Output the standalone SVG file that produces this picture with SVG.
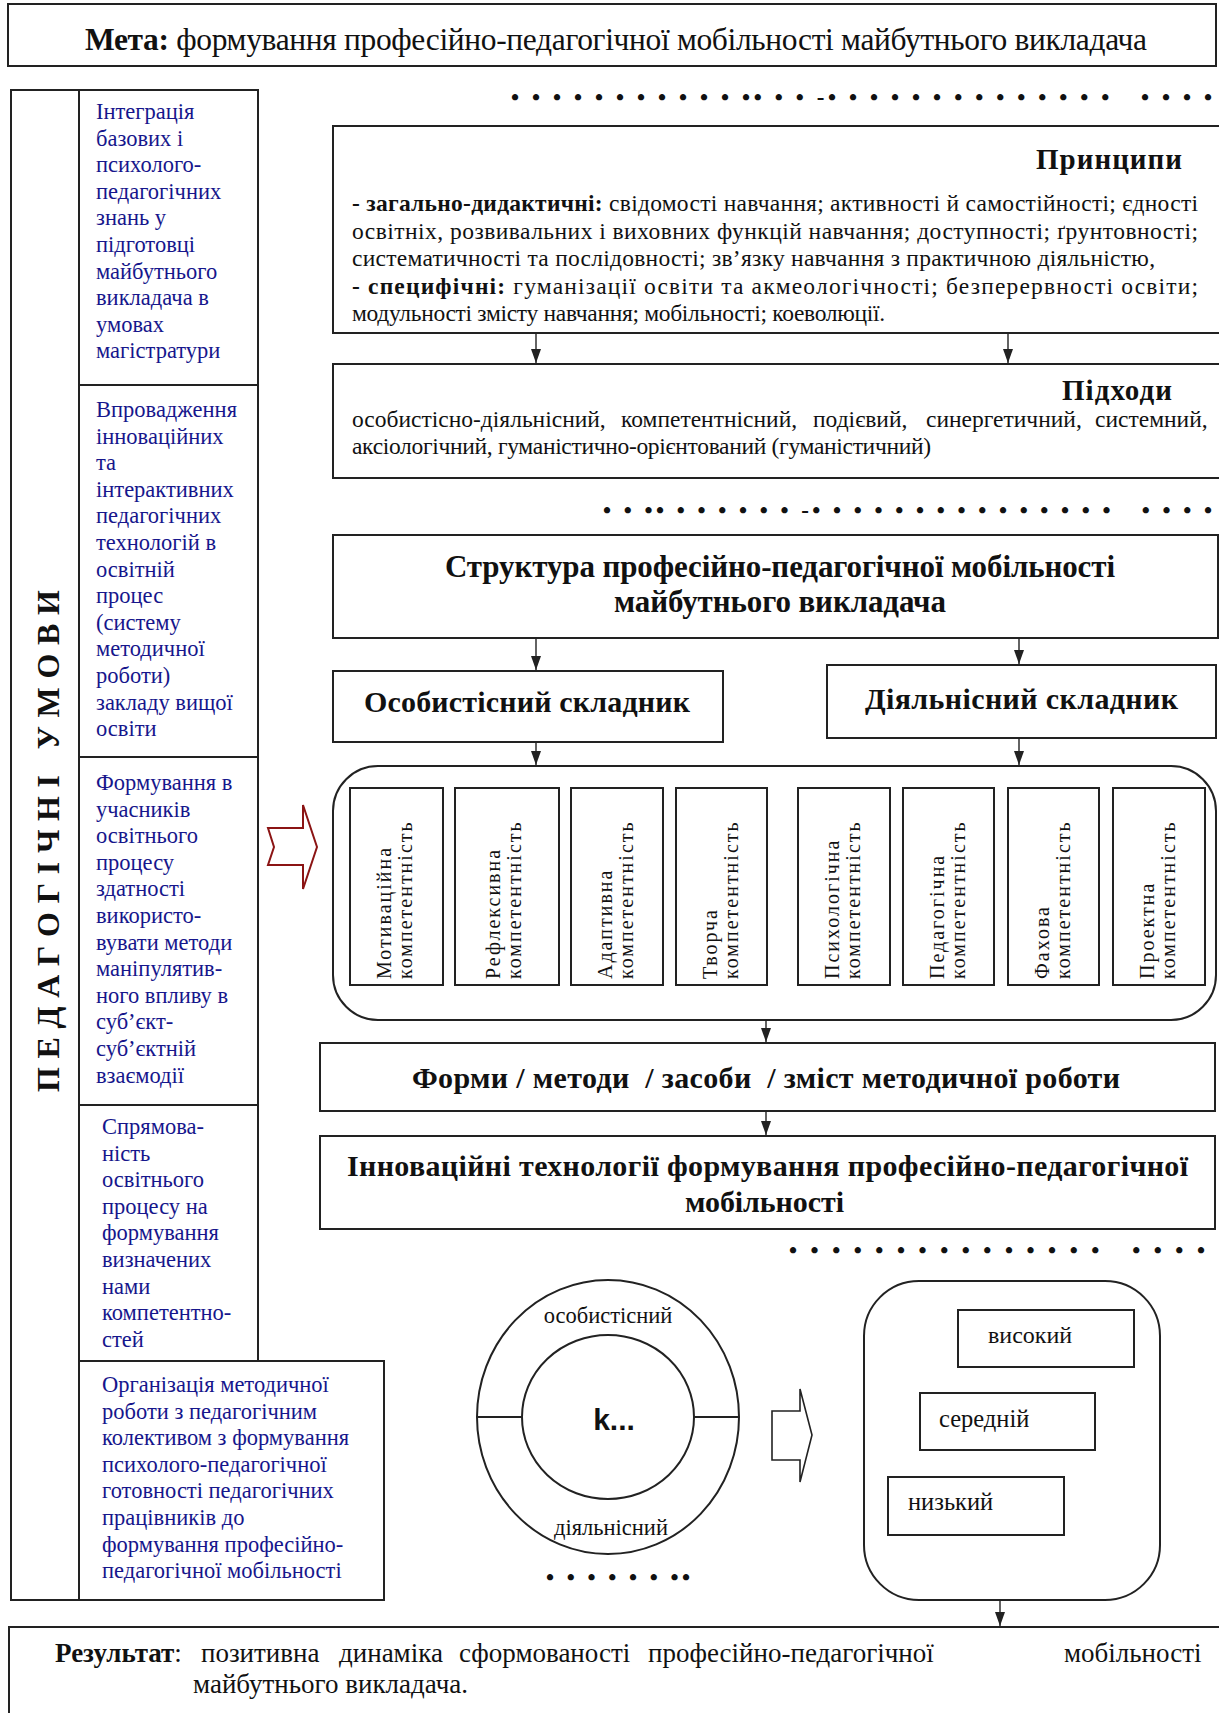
<svg xmlns="http://www.w3.org/2000/svg" width="1219" height="1713" viewBox="0 0 1219 1713">
<defs>
<style>
.box{fill:#fff;stroke:#222;stroke-width:2}
.nf{fill:none;stroke:#222;stroke-width:2}
.t{font-family:"Liberation Serif","Times New Roman",serif;fill:#111}
.b{font-weight:bold}
.blue{fill:#16168c;font-size:22.5px}
.dots{font-family:"Liberation Serif","Times New Roman",serif;font-weight:bold;font-size:23px;fill:#111}
.comp{font-family:"Liberation Serif","Times New Roman",serif;font-size:20px;letter-spacing:2px;fill:#111}
.con{stroke:#222;stroke-width:1.4;fill:none;marker-end:url(#ah)}
</style>
<marker id="ah" viewBox="0 0 14 10" refX="14" refY="5" markerWidth="14" markerHeight="10" markerUnits="userSpaceOnUse" orient="auto">
<path d="M0,0 L14,5 L0,10 Z" fill="#222"/>
</marker>
</defs>
<rect width="1219" height="1713" fill="#fff"/>

<g id="goal">
<rect class="box" x="8" y="4" width="1208" height="62"/>
<text class="t" x="85" y="50" font-size="31.5" textLength="1062" lengthAdjust="spacing"><tspan class="b">Мета:</tspan> формування професійно-педагогічної мобільності майбутнього викладача</text>
</g>

<g id="conditions">
<path class="nf" d="M11,90 H258 V1361 H384 V1600 H11 Z M79,90 V1600 M79,385 H258 M79,757 H258 M79,1105 H258 M79,1361 H258"/>
<text class="t b" xml:space="preserve" transform="translate(59,1092) rotate(-90)" font-size="32" textLength="502" lengthAdjust="spacing">П Е Д А Г О Г І Ч Н І   У М О В И</text>
</g>

<g id="cond1">
<text class="t blue" x="96" y="119"><tspan x="96" dy="0">Інтеграція</tspan><tspan x="96" dy="26.6">базових і</tspan><tspan x="96" dy="26.6">психолого-</tspan><tspan x="96" dy="26.6">педагогічних</tspan><tspan x="96" dy="26.6">знань у</tspan><tspan x="96" dy="26.6">підготовці</tspan><tspan x="96" dy="26.6">майбутнього</tspan><tspan x="96" dy="26.6">викладача в</tspan><tspan x="96" dy="26.6">умовах</tspan><tspan x="96" dy="26.6">магістратури</tspan></text>
</g>
<g id="cond2">
<text class="t blue" x="96" y="417"><tspan x="96" dy="0">Впровадження</tspan><tspan x="96" dy="26.6">інноваційних</tspan><tspan x="96" dy="26.6">та</tspan><tspan x="96" dy="26.6">інтерактивних</tspan><tspan x="96" dy="26.6">педагогічних</tspan><tspan x="96" dy="26.6">технологій в</tspan><tspan x="96" dy="26.6">освітній</tspan><tspan x="96" dy="26.6">процес</tspan><tspan x="96" dy="26.6">(систему</tspan><tspan x="96" dy="26.6">методичної</tspan><tspan x="96" dy="26.6">роботи)</tspan><tspan x="96" dy="26.6">закладу вищої</tspan><tspan x="96" dy="26.6">освіти</tspan></text>
</g>
<g id="cond3">
<text class="t blue" x="96" y="790"><tspan x="96" dy="0">Формування в</tspan><tspan x="96" dy="26.6">учасників</tspan><tspan x="96" dy="26.6">освітнього</tspan><tspan x="96" dy="26.6">процесу</tspan><tspan x="96" dy="26.6">здатності</tspan><tspan x="96" dy="26.6">використо-</tspan><tspan x="96" dy="26.6">вувати методи</tspan><tspan x="96" dy="26.6">маніпулятив-</tspan><tspan x="96" dy="26.6">ного впливу в</tspan><tspan x="96" dy="26.6">суб’єкт-</tspan><tspan x="96" dy="26.6">суб’єктній</tspan><tspan x="96" dy="26.6">взаємодії</tspan></text>
</g>
<g id="cond4">
<text class="t blue" x="102" y="1134"><tspan x="102" dy="0">Спрямова-</tspan><tspan x="102" dy="26.6">ність</tspan><tspan x="102" dy="26.6">освітнього</tspan><tspan x="102" dy="26.6">процесу на</tspan><tspan x="102" dy="26.6">формування</tspan><tspan x="102" dy="26.6">визначених</tspan><tspan x="102" dy="26.6">нами</tspan><tspan x="102" dy="26.6">компетентно-</tspan><tspan x="102" dy="26.6">стей</tspan></text>
</g>
<g id="cond5">
<text class="t blue" x="102" y="1392"><tspan x="102" dy="0">Організація методичної</tspan><tspan x="102" dy="26.6">роботи з педагогічним</tspan><tspan x="102" dy="26.6">колективом з формування</tspan><tspan x="102" dy="26.6">психолого-педагогічної</tspan><tspan x="102" dy="26.6">готовності педагогічних</tspan><tspan x="102" dy="26.6">працівників до</tspan><tspan x="102" dy="26.6">формування професійно-</tspan><tspan x="102" dy="26.6">педагогічної мобільності</tspan></text>
</g>

<g id="dots">
<text class="dots" xml:space="preserve" x="511" y="105" textLength="701" lengthAdjust="spacing">• • • • • • • • • • • •• • • -• • • • • • • • • • • • • •   • • • •</text>
<text class="dots" xml:space="preserve" x="603" y="518" textLength="609" lengthAdjust="spacing">• • •• • • • • • • -• • • • • • • • • • • • • • •   • • • •</text>
<text class="dots" xml:space="preserve" x="789" y="1258" textLength="416" lengthAdjust="spacing">• • • • • • • • • • • • • • •   • • • •</text>
<text class="dots" xml:space="preserve" x="546" y="1585" textLength="144" lengthAdjust="spacing">• • • • • • ••</text>
<text class="dots" xml:space="preserve" x="1024" y="1585" textLength="88" lengthAdjust="spacing">• •• • •</text>
</g>

<g id="principles">
<rect class="box" x="333" y="126" width="890" height="207"/>
<text class="t b" x="1036" y="169" font-size="29" textLength="146" lengthAdjust="spacing">Принципи</text>
<text class="t" font-size="23.5" x="352" y="211" textLength="846" lengthAdjust="spacing"><tspan class="b">- загально-дидактичні:</tspan> свідомості навчання; активності й самостійності; єдності</text>
<text class="t" font-size="23.5" x="352" y="238.5" textLength="846" lengthAdjust="spacing">освітніх, розвивальних і виховних функцій навчання; доступності; ґрунтовності;</text>
<text class="t" font-size="23.5" x="352" y="266" textLength="803" lengthAdjust="spacing">систематичності та послідовності; зв’язку навчання з практичною діяльністю,</text>
<text class="t" font-size="23.5" x="352" y="293.5" textLength="846" lengthAdjust="spacing"><tspan class="b">- специфічні:</tspan> гуманізації освіти та акмеологічності; безперервності освіти;</text>
<text class="t" font-size="23.5" x="352" y="321" textLength="533" lengthAdjust="spacing">модульності змісту навчання; мобільності; коеволюції.</text>
</g>

<g id="approaches">
<rect class="box" x="333" y="364" width="890" height="114"/>
<text class="t b" x="1062" y="400" font-size="29" textLength="110" lengthAdjust="spacing">Підходи</text>
<text class="t" font-size="23.5" y="427"><tspan x="352">особистісно-діяльнісний,</tspan><tspan x="621">компетентнісний,</tspan><tspan x="813">подієвий,</tspan><tspan x="926">синергетичний,</tspan><tspan x="1095">системний,</tspan></text>
<text class="t" font-size="23.5" x="352" y="454" textLength="579" lengthAdjust="spacing">аксіологічний, гуманістично-орієнтований (гуманістичний)</text>
</g>

<g id="structure">
<rect class="box" x="333" y="535" width="885" height="103"/>
<text class="t b" x="445" y="577" font-size="31" textLength="670" lengthAdjust="spacing">Структура професійно-педагогічної мобільності</text>
<text class="t b" x="614" y="612" font-size="31" textLength="332" lengthAdjust="spacing">майбутнього викладача</text>
</g>

<g id="personal">
<rect class="box" x="333" y="671" width="390" height="71"/>
<text class="t b" x="364" y="712" font-size="30" textLength="326" lengthAdjust="spacing">Особистісний складник</text>
</g>
<g id="activity">
<rect class="box" x="827" y="665" width="389" height="73"/>
<text class="t b" x="865" y="709" font-size="30" textLength="313" lengthAdjust="spacing">Діяльнісний складник</text>
</g>

<g id="competences">
<rect class="box" x="333" y="766" width="883" height="254" rx="45" ry="45"/>
<rect class="box" x="350" y="788" width="93" height="197"/>
<rect class="box" x="455" y="788" width="104" height="197"/>
<rect class="box" x="571" y="788" width="92" height="197"/>
<rect class="box" x="676" y="788" width="91" height="197"/>
<rect class="box" x="798" y="788" width="92" height="197"/>
<rect class="box" x="903" y="788" width="91" height="197"/>
<rect class="box" x="1008" y="788" width="91" height="197"/>
<rect class="box" x="1113" y="788" width="92" height="197"/>
<text class="comp" transform="translate(391,979) rotate(-90)"><tspan x="0" y="0">Мотиваційна</tspan><tspan x="0" y="21">компетентність</tspan></text>
<text class="comp" transform="translate(500,979) rotate(-90)"><tspan x="0" y="0">Рефлексивна</tspan><tspan x="0" y="21">компетентність</tspan></text>
<text class="comp" transform="translate(612,979) rotate(-90)"><tspan x="0" y="0">Адаптивна</tspan><tspan x="0" y="21">компетентність</tspan></text>
<text class="comp" transform="translate(717,979) rotate(-90)"><tspan x="0" y="0">Творча</tspan><tspan x="0" y="21">компетентність</tspan></text>
<text class="comp" transform="translate(839,979) rotate(-90)"><tspan x="0" y="0">Психологічна</tspan><tspan x="0" y="21">компетентність</tspan></text>
<text class="comp" transform="translate(944,979) rotate(-90)"><tspan x="0" y="0">Педагогічна</tspan><tspan x="0" y="21">компетентність</tspan></text>
<text class="comp" transform="translate(1049,979) rotate(-90)"><tspan x="0" y="0">Фахова</tspan><tspan x="0" y="21">компетентність</tspan></text>
<text class="comp" transform="translate(1154,979) rotate(-90)"><tspan x="0" y="0">Проектна</tspan><tspan x="0" y="21">компетентність</tspan></text>
</g>

<g id="forms">
<rect class="box" x="320" y="1043" width="895" height="68"/>
<text class="t b" xml:space="preserve" x="412" y="1088" font-size="30" textLength="708" lengthAdjust="spacing">Форми / методи  / засоби  / зміст методичної роботи</text>
</g>

<g id="technologies">
<rect class="box" x="320" y="1136" width="895" height="93"/>
<text class="t b" x="347" y="1176" font-size="30" textLength="841" lengthAdjust="spacing">Інноваційні технології формування професійно-педагогічної</text>
<text class="t b" x="685" y="1212" font-size="30" textLength="159" lengthAdjust="spacing">мобільності</text>
</g>

<g id="model">
<ellipse class="nf" cx="608" cy="1417" rx="131" ry="137"/>
<ellipse class="nf" cx="608" cy="1417" rx="86" ry="82"/>
<path class="nf" d="M477,1417 H522 M694,1417 H739"/>
<text class="t" x="608" y="1323" font-size="22.5" text-anchor="middle">особистісний</text>
<text class="t" x="611" y="1535" font-size="22.5" text-anchor="middle">діяльнісний</text>
<text x="614" y="1430" font-family="Liberation Sans, Arial, sans-serif" font-weight="bold" font-size="30" text-anchor="middle" fill="#111">k...</text>
</g>

<g id="levels">
<rect class="box" x="864" y="1281" width="296" height="319" rx="55" ry="55"/>
<rect class="box" x="958" y="1310" width="176" height="57"/>
<text class="t" x="988" y="1343" font-size="24">високий</text>
<rect class="box" x="920" y="1393" width="175" height="57"/>
<text class="t" x="939" y="1427" font-size="24.5">середній</text>
<rect class="box" x="888" y="1477" width="176" height="58"/>
<text class="t" x="908" y="1510" font-size="24.5">низький</text>
</g>

<g id="result">
<rect class="box" x="9" y="1627" width="1214" height="95"/>
<text class="t" y="1662" font-size="27"><tspan x="55" class="b">Результат</tspan><tspan>:</tspan><tspan x="201">позитивна</tspan><tspan x="339">динаміка</tspan><tspan x="459">сформованості</tspan><tspan x="648">професійно-педагогічної</tspan><tspan x="1064">мобільності</tspan></text>
<text class="t" x="193" y="1693" font-size="27">майбутнього викладача.</text>
</g>

<g id="connectors">
<line class="con" x1="536" y1="333" x2="536" y2="363"/>
<line class="con" x1="1008" y1="333" x2="1008" y2="363"/>
<line class="con" x1="536" y1="638" x2="536" y2="670"/>
<line class="con" x1="1019" y1="638" x2="1019" y2="664"/>
<line class="con" x1="536" y1="742" x2="536" y2="765"/>
<line class="con" x1="1019" y1="738" x2="1019" y2="765"/>
<line class="con" x1="766" y1="1020" x2="766" y2="1042"/>
<line class="con" x1="766" y1="1111" x2="766" y2="1135"/>
<line class="con" x1="1000" y1="1600" x2="1000" y2="1626"/>
<path d="M268,828 L303,828 L303,805 L317,847 L303,889 L303,865 L268,865 L274,847 Z" fill="#fff" stroke="#8b1414" stroke-width="2"/>
<path d="M772,1411 L800,1411 L800,1389 L812,1435 L800,1482 L800,1460 L772,1460 Z" fill="#fff" stroke="#222" stroke-width="1.6"/>
</g>
</svg>
